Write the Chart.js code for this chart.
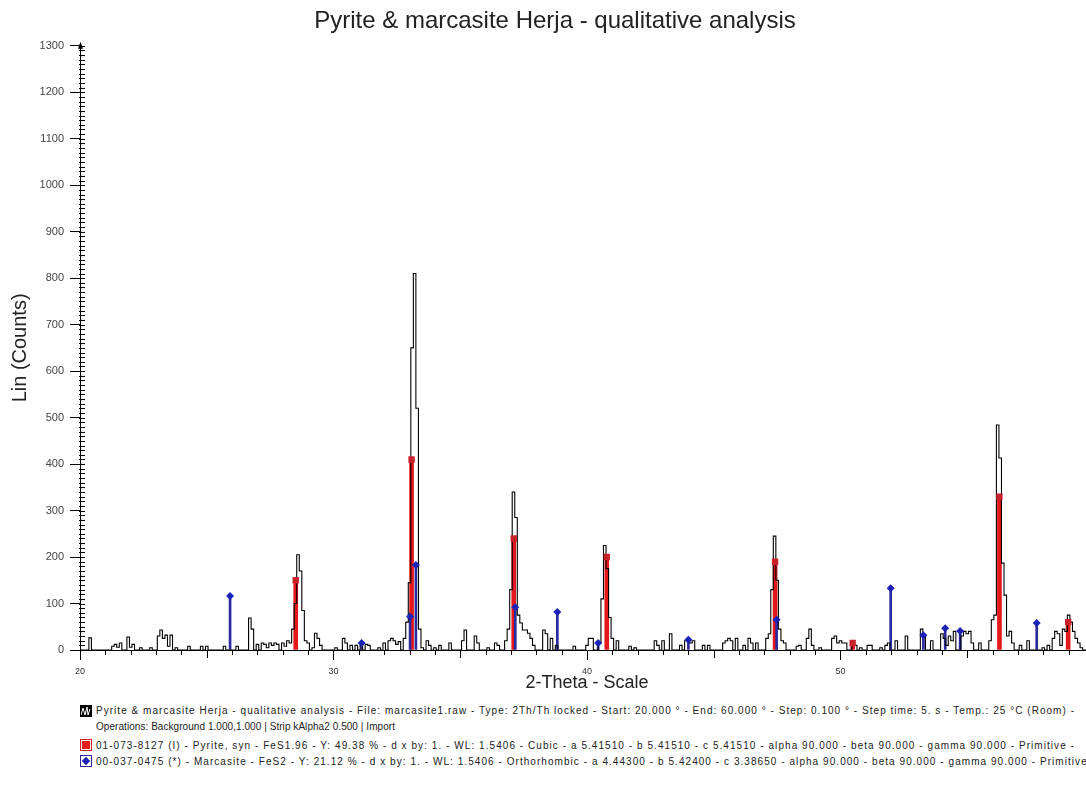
<!DOCTYPE html>
<html>
<head>
<meta charset="utf-8">
<title>Pyrite & marcasite Herja - qualitative analysis</title>
<script src="https://cdn.jsdelivr.net/npm/chart.js@4.4.1/dist/chart.umd.min.js"></script>
<style>
  html, body { margin: 0; padding: 0; background: #fff; overflow: hidden; }
  #wrap { position: relative; width: 1110px; height: 787px; }
  #chart { position: absolute; left: 0; top: 0; }
  .leg { position: absolute; left: 80px; font-family: "Liberation Sans", Arial, sans-serif;
         font-size: 10px; color: #222; white-space: nowrap; line-height: 14px; }
  .leg .ico { display: inline-block; width: 12px; height: 12px; vertical-align: -2px; margin-right: 4px; box-sizing: border-box; }
  .ico-scan { background: #000; border: 1px solid #000; }
  .ico-pyr { border: 1px solid #d22; background: #fff; position: relative; }
  .ico-pyr::after { content: ""; position: absolute; left: 1px; top: 1px; width: 8px; height: 8px; background: #e02020; }
  .ico-mar { border: 1px solid #2a2aa0; background: #fff; position: relative; }
  .ico-mar::after { content: ""; position: absolute; left: 2px; top: 2px; width: 6px; height: 6px; background: #1c22b5; transform: rotate(45deg); }
</style>
</head>
<body>
<div id="wrap">
  <canvas id="chart" width="1110" height="700"></canvas>
  <div class="leg" style="top:704px"><span class="ico ico-scan"><svg width="10" height="10" viewBox="0 0 10 10"><polyline points="0,9 2,2 4,9 6,1 7,9 9,3" fill="none" stroke="#fff" stroke-width="1"/></svg></span><span class="txt" data-w="979">Pyrite &amp; marcasite Herja - qualitative analysis - File: marcasite1.raw - Type: 2Th/Th locked - Start: 20.000 ° - End: 60.000 ° - Step: 0.100 ° - Step time: 5. s - Temp.: 25 °C (Room) -</span></div>
  <div class="leg" style="top:720px; left:96px"><span class="txt" data-w="299">Operations: Background 1.000,1.000 | Strip kAlpha2 0.500 | Import</span></div>
  <div class="leg" style="top:739px"><span class="ico ico-pyr"></span><span class="txt" data-w="979">01-073-8127 (I) - Pyrite, syn - FeS1.96 - Y: 49.38 % - d x by: 1. - WL: 1.5406 - Cubic - a 5.41510 - b 5.41510 - c 5.41510 - alpha 90.000 - beta 90.000 - gamma 90.000 - Primitive -</span></div>
  <div class="leg" style="top:755px"><span class="ico ico-mar"></span><span class="txt" data-like="2">00-037-0475 (*) - Marcasite - FeS2 - Y: 21.12 % - d x by: 1. - WL: 1.5406 - Orthorhombic - a 4.44300 - b 5.42400 - c 3.38650 - alpha 90.000 - beta 90.000 - gamma 90.000 - Primitive -</span></div>
</div>
<script>
// Scan parameters (from the file header: Start 20.000, End 60.000, Step 0.100)
const scanStart = 20;
const scanEnd = 60;
const scanStep = 0.1;

// Measured counts, one row per degree (x.0 ... x.9), last value is 60.0
const counts = [
  0, 0, 0, 0, 26, 0, 0, 0, 0, 0,          // 20
  0, 0, 0, 8, 12, 6, 15, 0, 0, 28,        // 21
  6, 12, 0, 0, 5, 0, 0, 0, 5, 0,          // 22
  0, 30, 43, 25, 32, 8, 32, 0, 5, 0,      // 23
  0, 0, 0, 8, 0, 0, 0, 0, 8, 0,           // 24
  8, 0, 0, 0, 0, 0, 0, 8, 0, 0,           // 25
  0, 0, 8, 0, 0, 0, 0, 69, 45, 0,         // 26
  12, 0, 15, 12, 5, 15, 10, 15, 12, 0,    // 27
  15, 8, 20, 15, 45, 100, 205, 170, 85, 20, // 28
  15, 0, 5, 36, 25, 10, 0, 0, 0, 0,       // 29
  0, 5, 0, 0, 25, 15, 0, 10, 0, 10,       // 30
  0, 10, 0, 12, 10, 0, 0, 0, 5, 0,        // 31
  15, 0, 20, 25, 20, 12, 18, 0, 25, 60,   // 32
  145, 650, 810, 520, 45, 5, 0, 20, 10, 0, // 33
  5, 0, 10, 0, 0, 0, 15, 0, 0, 0,         // 34
  0, 20, 43, 0, 0, 0, 30, 15, 0, 0,       // 35
  0, 5, 0, 0, 15, 10, 0, 0, 20, 45,       // 36
  130, 340, 285, 75, 58, 43, 43, 36, 25, 10, // 37
  0, 0, 0, 43, 35, 0, 25, 0, 10, 0,       // 38
  0, 0, 0, 0, 0, 8, 0, 0, 0, 0,           // 39
  10, 25, 25, 0, 0, 15, 110, 225, 175, 70, // 40
  25, 0, 20, 0, 0, 0, 0, 8, 0, 5,         // 41
  0, 0, 0, 0, 0, 0, 0, 20, 10, 0,         // 42
  20, 0, 0, 35, 0, 0, 0, 10, 0, 20,       // 43
  25, 15, 20, 0, 0, 0, 10, 0, 10, 0,      // 44
  0, 0, 0, 0, 15, 20, 25, 20, 0, 25,      // 45
  0, 0, 10, 0, 25, 15, 0, 15, 0, 0,       // 46
  0, 25, 35, 130, 245, 150, 45, 20, 15, 0, // 47
  0, 0, 0, 8, 10, 0, 0, 25, 45, 10,       // 48
  0, 0, 5, 0, 0, 0, 0, 25, 30, 15,        // 49
  20, 15, 15, 0, 0, 10, 10, 0, 5, 0,      // 50
  0, 10, 10, 0, 0, 0, 5, 0, 10, 15,       // 51
  0, 0, 20, 0, 0, 0, 30, 0, 0, 0,         // 52
  0, 0, 45, 30, 0, 0, 20, 0, 0, 0,        // 53
  35, 25, 10, 30, 20, 40, 0, 0, 30, 40,   // 54
  35, 40, 15, 0, 0, 15, 0, 0, 0, 20,      // 55
  65, 75, 484, 413, 187, 118, 30, 40, 15, 0, // 56
  0, 10, 0, 0, 20, 0, 0, 0, 0, 0,         // 57
  5, 0, 10, 0, 25, 40, 35, 10, 45, 40,    // 58
  75, 60, 40, 25, 15, 5, 0, 0, 0, 0,      // 59
  0                                        // 60
];

// Reference pattern 01-073-8127 Pyrite
const pyriteAngles = [28.51, 33.08, 37.11, 40.78, 47.42, 50.48, 56.27, 58.98];
const pyriteCounts = [150, 410, 240, 200, 190, 15, 330, 60];

// Reference pattern 00-037-0475 Marcasite
const marcasiteAngles = [25.92, 31.11, 33.02, 33.25, 37.17, 38.83, 40.44, 44.0, 47.48, 51.98, 53.27, 54.13, 54.72, 57.74];
const marcasiteCounts = [116, 15, 72, 183, 92, 82, 15, 22, 65, 133, 32, 47, 41, 58];

// Axis ticks
const yMax = 1300;
const yMajor = 100;
const yMinor = 10;
const xMajor = 10;

const FONT = '"Liberation Sans", Arial, sans-serif';

const scanPoints = counts.map((c, i) => ({ x: +(scanStart + i * scanStep).toFixed(1), y: c }));
const pyritePoints = pyriteAngles.map((a, i) => ({ x: a, y: pyriteCounts[i] }));
const marcasitePoints = marcasiteAngles.map((a, i) => ({ x: a, y: marcasiteCounts[i] }));

// stretch legend lines to the width they have in the original printout
const spans = document.querySelectorAll('.leg .txt');
const spacing = [];
spans.forEach((el, i) => {
    if (el.dataset.like) {
        el.style.letterSpacing = spacing[+el.dataset.like] + 'px';
        return;
    }
    const n = el.textContent.length;
    const w = el.getBoundingClientRect().width;
    const ls = (+el.dataset.w - w) / n;
    spacing[i] = ls;
    el.style.letterSpacing = ls + 'px';
});

// minor ticks and the little arrow on the y axis
const axisDecor = {
    id: 'axisDecor',
    afterDraw(chart) {
        const ctx = chart.ctx;
        const x = chart.scales.x, y = chart.scales.y;
        ctx.save();
        ctx.strokeStyle = '#000';
        ctx.lineWidth = 1;
        ctx.beginPath();
        for (let v = 0; v <= yMax; v += yMinor) {
            const py = Math.round(y.getPixelForValue(v)) + 0.5;
            ctx.moveTo(x.left - 1, py);
            ctx.lineTo(x.left + 5, py);
        }
        for (let v = scanStart + 1; v < scanEnd; v++) {
            if (v % xMajor === 0) continue;
            const px = Math.round(x.getPixelForValue(v)) + 0.5;
            ctx.moveTo(px, y.bottom);
            ctx.lineTo(px, y.bottom + (v % 5 === 0 ? 8 : 5));
        }
        ctx.stroke();
        ctx.fillStyle = '#000';
        ctx.beginPath();
        ctx.moveTo(x.left + 0.5, y.top - 4);
        ctx.lineTo(x.left - 2, y.top + 3);
        ctx.lineTo(x.left + 3, y.top + 3);
        ctx.closePath();
        ctx.fill();
        ctx.restore();
    }
};

const ctx = document.getElementById('chart').getContext('2d');
const chart = new Chart(ctx, {
    type: 'line',
    data: {
        datasets: [
            {
                label: 'Pyrite & marcasite Herja',
                data: scanPoints,
                borderColor: '#000',
                borderWidth: 1.1,
                pointRadius: 0,
                stepped: 'middle',
                fill: false,
                order: 1
            },
            {
                type: 'bar',
                label: 'Pyrite sticks',
                data: pyritePoints,
                backgroundColor: '#e3181b',
                barThickness: 4,
                grouped: false,
                order: 3
            },
            {
                type: 'bar',
                label: 'Marcasite sticks',
                data: marcasitePoints,
                backgroundColor: '#2a2aa0',
                barThickness: 2,
                grouped: false,
                order: 2
            },
            {
                label: 'Pyrite',
                data: pyritePoints,
                showLine: false,
                pointStyle: 'rect',
                pointRadius: 4.5,
                pointBackgroundColor: '#c8232a',
                pointBorderWidth: 0,
                order: 0
            },
            {
                label: 'Marcasite',
                data: marcasitePoints,
                showLine: false,
                pointStyle: 'rectRot',
                pointRadius: 4,
                pointBackgroundColor: '#1c22b5',
                pointBorderWidth: 0,
                order: 0
            }
        ]
    },
    options: {
        responsive: false,
        animation: false,
        devicePixelRatio: 1,
        layout: { padding: { left: 16, right: 16, top: 0, bottom: 0 } },
        plugins: {
            legend: { display: false },
            tooltip: { enabled: false },
            title: {
                display: true,
                text: 'Pyrite & marcasite Herja - qualitative analysis',
                color: '#222',
                font: { family: FONT, size: 24, weight: 'normal' },
                padding: { top: 7, bottom: 10 }
            }
        },
        scales: {
            x: {
                type: 'linear',
                min: scanStart,
                max: scanEnd,
                offset: false,
                afterFit(s) { s.height = 50; },
                ticks: { stepSize: xMajor, color: '#333', font: { family: FONT, size: 9 }, padding: 6, maxRotation: 0 },
                grid: { drawOnChartArea: false, offset: false, tickLength: 10, tickColor: '#000', color: '#000' },
                border: { color: '#000', width: 1 },
                title: { display: true, text: '2-Theta - Scale', color: '#222', font: { family: FONT, size: 18 }, padding: { top: 0, bottom: 6 } }
            },
            y: {
                type: 'linear',
                min: 0,
                max: yMax,
                afterFit(s) { s.width = 64; },
                ticks: { stepSize: yMajor, color: '#444', font: { family: FONT, size: 11 }, padding: 6, callback: v => String(v) },
                grid: { drawOnChartArea: false, tickLength: 10, tickColor: '#000', color: '#000' },
                border: { color: '#000', width: 1 },
                title: { display: true, text: 'Lin (Counts)', color: '#222', font: { family: FONT, size: 20 }, padding: { top: -8, bottom: 0 } }
            }
        }
    },
    plugins: [axisDecor]
});
</script>
</body>
</html>
